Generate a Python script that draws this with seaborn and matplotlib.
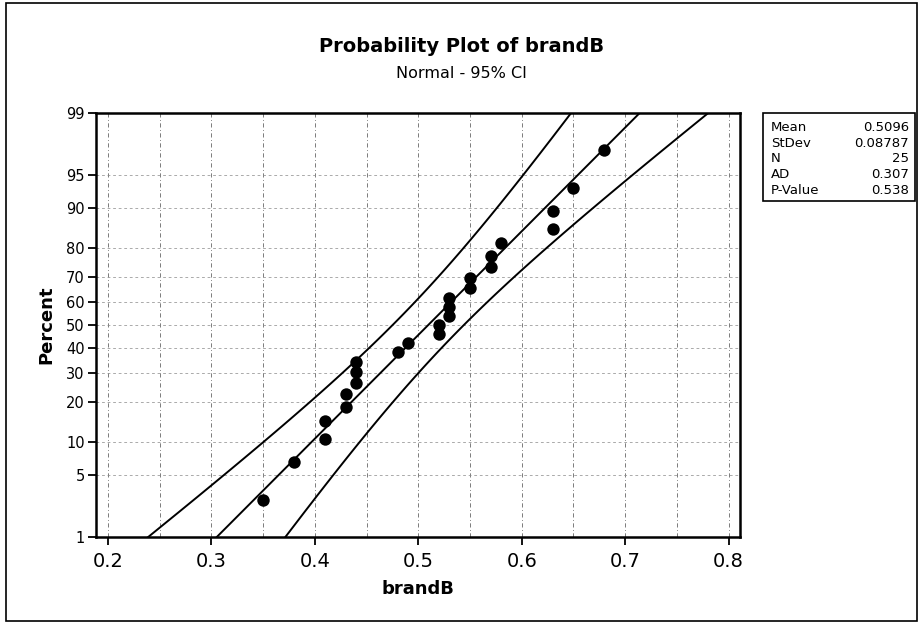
import numpy as np
import matplotlib
matplotlib.use("Agg")
import matplotlib.pyplot as plt
import seaborn as sns
from matplotlib.patches import Rectangle
from statistics import NormalDist

# ── data ──────────────────────────────────────────────────────────────────────
brandB = [0.35, 0.38, 0.41, 0.41, 0.43, 0.43, 0.44, 0.44, 0.44, 0.48,
          0.49, 0.52, 0.52, 0.53, 0.53, 0.53, 0.55, 0.55, 0.57, 0.57,
          0.58, 0.63, 0.63, 0.65, 0.68]
MEAN, STDEV, N = 0.5096, 0.08787, 25
stat_labels = ["Mean", "StDev", "N", "AD", "P-Value"]
stat_values = ["0.5096", "0.08787", "25", "0.307", "0.538"]
pct_ticks = [1, 5, 10, 20, 30, 40, 50, 60, 70, 80, 90, 95, 99]
x_ticks = [0.2, 0.3, 0.4, 0.5, 0.6, 0.7, 0.8]

nd = NormalDist()
_ppf = np.vectorize(lambda p: nd.inv_cdf(min(max(p, 1e-9), 1 - 1e-9)), otypes=[float])
_cdf = np.vectorize(nd.cdf, otypes=[float])

def fwd(p):
    return _ppf(np.asarray(p, dtype=float) / 100.0)

def inv(z):
    return _cdf(np.asarray(z, dtype=float)) * 100.0

# plotting positions (Benard median ranks, Minitab default)
xs = np.sort(brandB)
ranks = np.arange(1, N + 1)
pct_pts = (ranks - 0.3) / (N + 0.4) * 100

# fitted line and 95% CI from the shown parameters
pct_line = np.concatenate([[0.05, 0.2, 0.5], np.linspace(1, 99, 99), [99.5, 99.8, 99.95]])
z = fwd(pct_line)
fit = MEAN + z * STDEV
half = 1.96 * STDEV * np.sqrt(1 / N + z ** 2 / (2 * N))
lo, hi = fit - half, fit + half

# ── figure ────────────────────────────────────────────────────────────────────
sns.set_style("white")
plt.rcParams["font.family"] = ["DejaVu Sans"]
plt.rcParams.update({"text.color": "black", "axes.labelcolor": "black",
                     "xtick.color": "black", "ytick.color": "black"})

W, H = 923, 624
fig = plt.figure(figsize=(W / 100, H / 100), dpi=100)
ax = fig.add_axes([96 / W, 1 - 537 / H, 644 / W, 424 / H])
ax.set_yscale("function", functions=(fwd, inv))

for xv in (lo, fit, hi):
    sns.lineplot(x=xv, y=pct_line, sort=False, estimator=None, color="black",
                 lw=1.4, ax=ax, zorder=3)
sns.scatterplot(x=xs, y=pct_pts, color="black", s=80, edgecolor="black",
                linewidth=0, ax=ax, zorder=4)

ax.set_xlim(0.1884, 0.811)
ax.set_ylim(1, 99)
ax.set_xticks(x_ticks)
ax.set_xticklabels([f"{v:.1f}" for v in x_ticks])
ax.set_xticks(np.arange(0.25, 0.8, 0.1), minor=True)
ax.set_yticks(pct_ticks)
ax.set_yticklabels([str(p) for p in pct_ticks])
ax.yaxis.set_minor_locator(matplotlib.ticker.NullLocator())

ax.grid(True, which="both", axis="x", color="#666666", lw=0.6, ls=(0, (5, 3, 1, 3)))
ax.grid(True, which="major", axis="y", color="#888888", lw=0.5, ls=(0, (4, 4)))
ax.tick_params(axis="x", which="major", direction="out", length=6, width=1.3,
               labelsize=14, pad=5, bottom=True)
ax.tick_params(axis="x", which="minor", length=0)
ax.tick_params(axis="y", direction="out", length=6, width=1.3, labelsize=10.5,
               pad=2, left=True)
for sp in ax.spines.values():
    sp.set_color("black")
    sp.set_linewidth(1.8)

ax.set_xlabel("brandB", fontsize=13, fontweight="bold", labelpad=6)
ax.set_ylabel("Percent", fontsize=13, fontweight="bold", labelpad=8)

fig.text(461.5 / W, 1 - 46 / H, "Probability Plot of brandB", ha="center",
         va="center", fontsize=14, fontweight="bold")
fig.text(461.5 / W, 1 - 74 / H, "Normal - 95% CI", ha="center", va="center",
         fontsize=11.5)

# stats box
fig.patches.append(Rectangle((763 / W, 1 - 201 / H), 152 / W, 88 / H,
                             transform=fig.transFigure, fill=False,
                             edgecolor="black", lw=1.2))
for i, (lab, val) in enumerate(zip(stat_labels, stat_values)):
    yy = 1 - (128 + i * 15.5) / H
    fig.text(771 / W, yy, lab, ha="left", va="center", fontsize=9.5)
    fig.text(909 / W, yy, val, ha="right", va="center", fontsize=9.5)

# outer frame
fig.patches.append(Rectangle((6 / W, 1 - 621 / H), 911 / W, 618 / H,
                             transform=fig.transFigure, fill=False,
                             edgecolor="black", lw=1.2))

fig.savefig("out.png", dpi=100)
